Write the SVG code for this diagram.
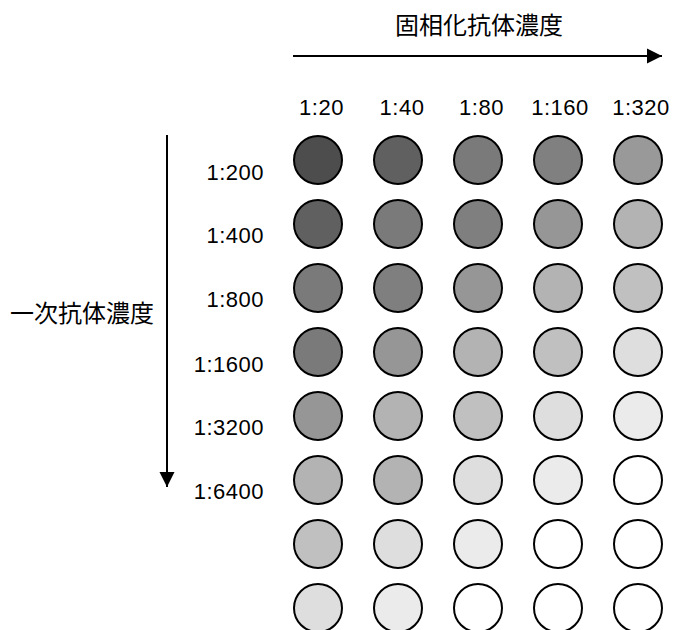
<svg xmlns="http://www.w3.org/2000/svg" width="674" height="630" viewBox="0 0 674 630">
<style>
.t{font-family:"Liberation Sans","Noto Sans CJK JP",sans-serif;font-size:22px;letter-spacing:0.5px;fill:#000}
.j{font-family:"Liberation Sans","Noto Sans CJK JP",sans-serif;font-size:24px;fill:#000}
.c{stroke:#000;stroke-width:2}
.ln{stroke:#000;stroke-width:2;fill:none}
</style>
<defs>
<marker id="ah" markerUnits="userSpaceOnUse" markerWidth="16" markerHeight="16" viewBox="0 0 16 16" refX="15" refY="8" orient="auto">
<path d="M0,0.5 L15,8 L0,15.5 Z" fill="#000"/>
</marker>
</defs>
<rect width="674" height="630" fill="#fff"/>
<g id="connectors">
<line class="ln" x1="293" y1="56" x2="662" y2="56" marker-end="url(#ah)"/>
<line class="ln" x1="167" y1="135" x2="167" y2="487" marker-end="url(#ah)"/>
</g>
<g id="labels">
<text class="j" x="479" y="34" text-anchor="middle">固相化抗体濃度</text>
<text class="j" x="82" y="322" text-anchor="middle">一次抗体濃度</text>
<text class="t" x="321.5" y="115" text-anchor="middle">1:20</text>
<text class="t" x="402" y="115" text-anchor="middle">1:40</text>
<text class="t" x="481.5" y="115" text-anchor="middle">1:80</text>
<text class="t" x="560" y="115" text-anchor="middle">1:160</text>
<text class="t" x="641" y="115" text-anchor="middle">1:320</text>
<text class="t" x="264" y="179.5" text-anchor="end">1:200</text>
<text class="t" x="264" y="243" text-anchor="end">1:400</text>
<text class="t" x="264" y="306.5" text-anchor="end">1:800</text>
<text class="t" x="264" y="371.5" text-anchor="end">1:1600</text>
<text class="t" x="264" y="435" text-anchor="end">1:3200</text>
<text class="t" x="264" y="498.5" text-anchor="end">1:6400</text>
</g>
<g id="row1">
<circle class="c" cx="318" cy="160" r="24" fill="#4d4d4d"/>
<circle class="c" cx="398" cy="160" r="24" fill="#606060"/>
<circle class="c" cx="478" cy="160" r="24" fill="#7a7a7a"/>
<circle class="c" cx="558" cy="160" r="24" fill="#808080"/>
<circle class="c" cx="638" cy="160" r="24" fill="#999999"/>
</g>
<g id="row2">
<circle class="c" cx="318" cy="224" r="24" fill="#606060"/>
<circle class="c" cx="398" cy="224" r="24" fill="#7a7a7a"/>
<circle class="c" cx="478" cy="224" r="24" fill="#7f7f7f"/>
<circle class="c" cx="558" cy="224" r="24" fill="#969696"/>
<circle class="c" cx="638" cy="224" r="24" fill="#b3b3b3"/>
</g>
<g id="row3">
<circle class="c" cx="318" cy="288" r="24" fill="#7a7a7a"/>
<circle class="c" cx="398" cy="288" r="24" fill="#7f7f7f"/>
<circle class="c" cx="478" cy="288" r="24" fill="#969696"/>
<circle class="c" cx="558" cy="288" r="24" fill="#b3b3b3"/>
<circle class="c" cx="638" cy="288" r="24" fill="#c0c0c0"/>
</g>
<g id="row4">
<circle class="c" cx="318" cy="352" r="24" fill="#7a7a7a"/>
<circle class="c" cx="398" cy="352" r="24" fill="#969696"/>
<circle class="c" cx="478" cy="352" r="24" fill="#b3b3b3"/>
<circle class="c" cx="558" cy="352" r="24" fill="#c0c0c0"/>
<circle class="c" cx="638" cy="352" r="24" fill="#dedede"/>
</g>
<g id="row5">
<circle class="c" cx="318" cy="416" r="24" fill="#969696"/>
<circle class="c" cx="398" cy="416" r="24" fill="#b3b3b3"/>
<circle class="c" cx="478" cy="416" r="24" fill="#c0c0c0"/>
<circle class="c" cx="558" cy="416" r="24" fill="#dedede"/>
<circle class="c" cx="638" cy="416" r="24" fill="#ebebeb"/>
</g>
<g id="row6">
<circle class="c" cx="318" cy="480" r="24" fill="#b3b3b3"/>
<circle class="c" cx="398" cy="480" r="24" fill="#b3b3b3"/>
<circle class="c" cx="478" cy="480" r="24" fill="#dedede"/>
<circle class="c" cx="558" cy="480" r="24" fill="#ebebeb"/>
<circle class="c" cx="638" cy="480" r="24" fill="#ffffff"/>
</g>
<g id="row7">
<circle class="c" cx="318" cy="544" r="24" fill="#c0c0c0"/>
<circle class="c" cx="398" cy="544" r="24" fill="#dedede"/>
<circle class="c" cx="478" cy="544" r="24" fill="#ebebeb"/>
<circle class="c" cx="558" cy="544" r="24" fill="#ffffff"/>
<circle class="c" cx="638" cy="544" r="24" fill="#ffffff"/>
</g>
<g id="row8">
<circle class="c" cx="318" cy="608" r="24" fill="#dedede"/>
<circle class="c" cx="398" cy="608" r="24" fill="#ebebeb"/>
<circle class="c" cx="478" cy="608" r="24" fill="#ffffff"/>
<circle class="c" cx="558" cy="608" r="24" fill="#ffffff"/>
<circle class="c" cx="638" cy="608" r="24" fill="#ffffff"/>
</g>
</svg>
